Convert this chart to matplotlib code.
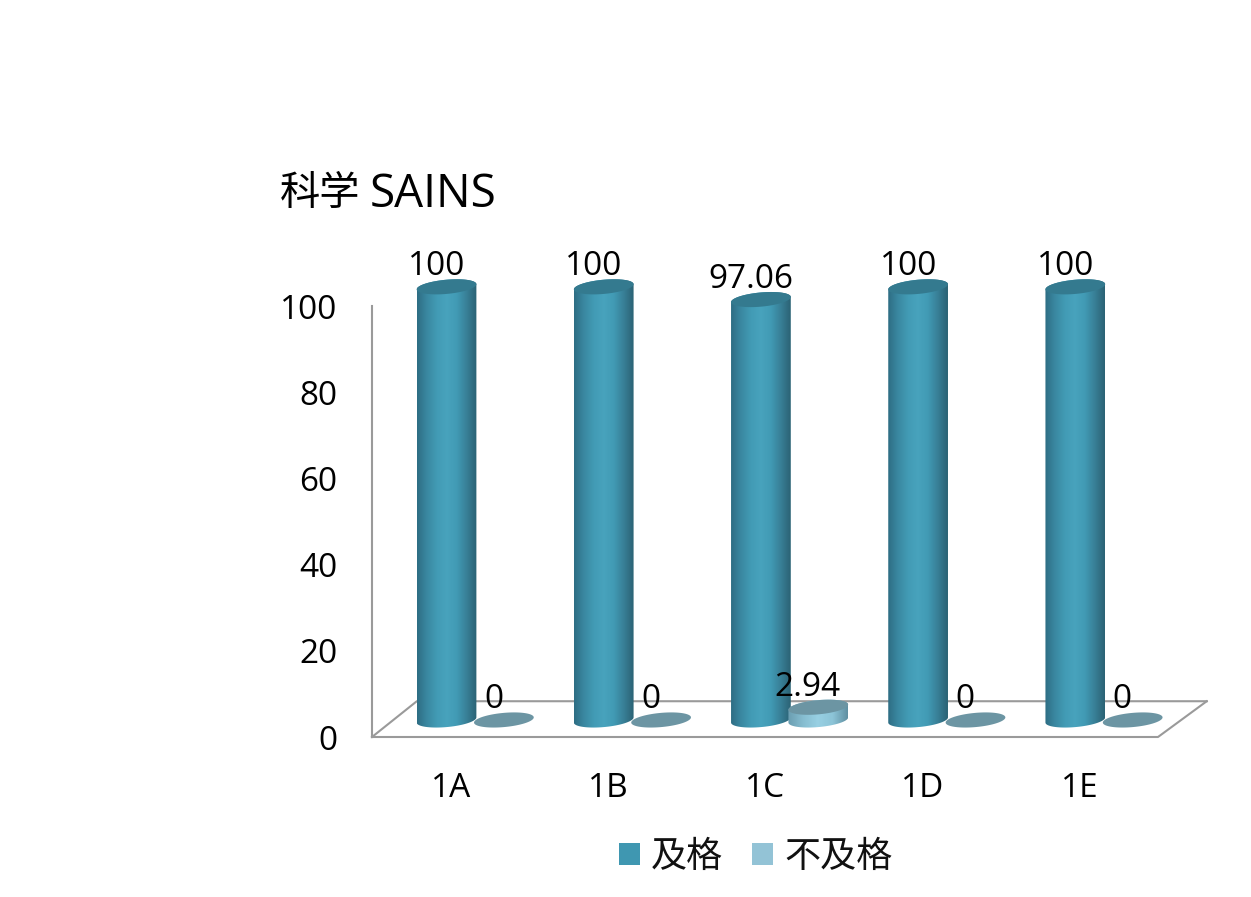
import numpy as np
import matplotlib
matplotlib.use("Agg")
import matplotlib.pyplot as plt
from matplotlib.colors import LinearSegmentedColormap
from matplotlib.patches import Patch, Polygon

# Datos
clases = ["1A", "1B", "1C", "1D", "1E"]
lulus = [100, 100, 97.06, 100, 100]
gagal = [0, 0, 2.94, 0, 0]
yticks = [0, 20, 40, 60, 80, 100]
titulo_cjk = "科学"
titulo_lat = "SAINS"
nombres = ["及格", "不及格"]

plt.rcParams['font.family'] = ['Open Sans', 'Noto Sans CJK SC', 'DejaVu Sans']

W, H = 1251, 897
fig = plt.figure(figsize=(W/100, H/100), dpi=100)
ax = fig.add_axes([372/W, 1-737/H, (1158-372)/W, (737-306)/H])
ax.axis("off")

GRIS = "#9a9a9a"
BASE = 3.95      # altura del suelo del cilindro
ESCALA = 1.005
A = 0.19         # semi ancho en categorías
B = 1.65         # semi alto de la elipse
S = 0.6          # inclinación de la elipse

cmap1 = LinearSegmentedColormap.from_list("c1", ["#2e6d83", "#3a88a1", "#429bb5", "#48a3bd", "#419ab4", "#387f96", "#2b6274"])
cmap2 = LinearSegmentedColormap.from_list("c2", ["#6a9db0", "#86bdd0", "#98d0e3", "#8cc4d7", "#5f8fa1"])


def elipse(cx, cy, t):
    return np.column_stack([cx + A*np.cos(t), cy + B*np.sin(t) + S*np.cos(t)])


def cilindro(cx, valor, cmap, tapa):
    y0 = BASE
    y1 = BASE + valor*ESCALA
    if valor > 0:
        t_abajo = np.linspace(np.pi, 2*np.pi, 60)
        t_arriba = np.linspace(0, np.pi, 60)
        cuerpo = np.vstack([elipse(cx, y0, t_abajo), elipse(cx, y1, t_arriba)])
        clip = Polygon(cuerpo, closed=True, transform=ax.transData, fc="none", ec="none", clip_on=False)
        ax.add_patch(clip)
        grad = np.linspace(0, 1, 256).reshape(1, -1)
        im = ax.imshow(grad, cmap=cmap, aspect="auto", zorder=3,
                       extent=(cx-A, cx+A, y0-B-S, y1+B+S))
        # la imagen sale de los ejes: recorte con la figura y no con ax.bbox
        im.set_clip_box(fig.bbox)
        im.set_clip_path(clip)
    t = np.linspace(0, 2*np.pi, 120)
    ax.add_patch(Polygon(elipse(cx, y1, t), closed=True, fc=tapa, ec="none", zorder=4, clip_on=False))
    return y1


# Paredes
ax.plot([-0.5, -0.5], [0, 100], color=GRIS, lw=1.5, clip_on=False, zorder=1)
ax.plot([-0.5, 4.5, 4.81], [0, 0, 8.3], color=GRIS, lw=1.5, clip_on=False, zorder=1)
ax.plot([-0.5, -0.215, 4.81], [0, 8.3, 8.3], color=GRIS, lw=1.5, clip_on=False, zorder=1)

# Barras
for i in range(len(clases)):
    y1 = cilindro(i-0.026, lulus[i], cmap1, "#347a8f")
    ax.annotate(f"{lulus[i]:g}", (i-0.026, y1), xytext=(-7, 14.5), textcoords="offset points",
                ha="center", va="center", fontsize=24, color="black", zorder=6, annotation_clip=False)
    y2 = cilindro(i+0.339, gagal[i], cmap2, "#6c95a3")
    ax.annotate(f"{gagal[i]:g}", (i+0.339, y2), xytext=(-7.5, 14.5), textcoords="offset points",
                ha="center", va="center", fontsize=24, color="black", zorder=6, annotation_clip=False)

# Ejes
for v in yticks:
    ax.annotate(str(v), (-0.5, v), xytext=(-25, -3), textcoords="offset points",
                ha="right", va="center", fontsize=24, color="black", annotation_clip=False)
for i, c in enumerate(clases):
    ax.annotate(c, (i, 0), xytext=(0, -37), textcoords="offset points",
                ha="center", va="center", fontsize=24, color="black", annotation_clip=False)

ax.set_xlim(-0.5, 4.5)
ax.set_ylim(0, 100)

fig.text(280/W, 1-194/H, titulo_cjk, fontsize=29, color="black", ha="left", va="center",
         family=["Noto Sans CJK SC", "DejaVu Sans"])
fig.text(370/W, 1-195/H, titulo_lat, fontsize=33, color="black", ha="left", va="center")

handles = [Patch(fc="#3f97b1", ec="none"), Patch(fc="#93c3d6", ec="none")]
fig.legend(handles, nombres, loc="center", bbox_to_anchor=(756/W, 1-857/H), ncols=2, frameon=False,
           prop={"family": ["Noto Sans CJK SC", "DejaVu Sans"], "size": 26},
           handlelength=0.58, handleheight=0.58, handletextpad=0.3, columnspacing=0.8, labelcolor="#111111")

fig.savefig("out.png", dpi=100)
